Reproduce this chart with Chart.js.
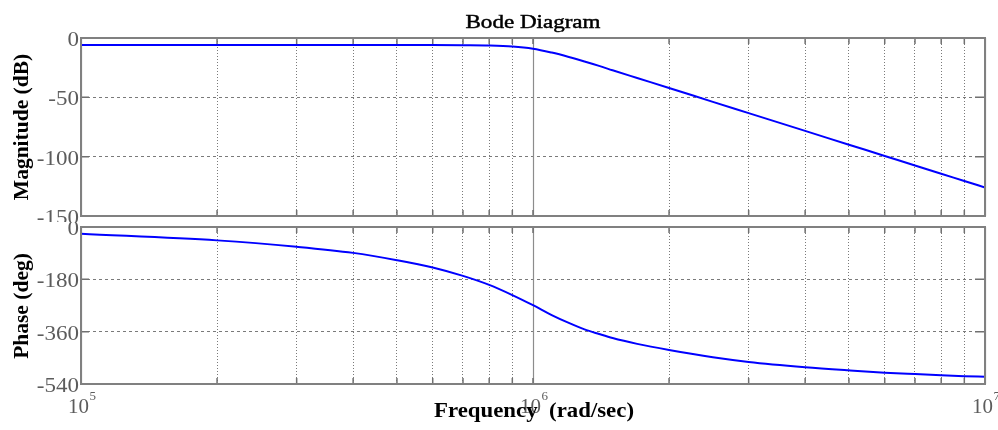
<!DOCTYPE html>
<html>
<head>
<meta charset="utf-8">
<script src="https://cdn.jsdelivr.net/npm/chart.js@4.4.1/dist/chart.umd.min.js"></script>
<style>
body{margin:0;background:#fff;width:998px;height:430px;overflow:hidden;position:relative}
canvas{position:absolute;left:0}
#mag{top:0}
#pha{top:222px}
</style>
</head>
<body>
<canvas id="mag" width="998" height="222"></canvas>
<canvas id="pha" width="998" height="208"></canvas>
<script>
// values (rad/sec, dB, deg)
const freq = [1e5, 2e5, 3e5, 4e5, 5e5, 6e5, 7e5, 8e5, 9e5, 1e6, 1.1e6, 1.2e6, 1.3e6, 1.4e6, 1.5e6, 1.7e6, 2e6, 2.5e6, 3e6, 4e6, 5e6, 6e6, 7e6, 8e6, 9e6, 1e7];
const magnitude = [-6.0, -6.0, -6.0, -6.0, -6.0, -6.0, -6.1, -6.3, -7.1, -9.0, -12.3, -16.0, -19.8, -23.5, -27.2, -33.7, -42.1, -53.8, -63.3, -78.3, -89.9, -99.4, -107.4, -114.4, -120.5, -126.0];
const phase = [-23, -46, -68, -89, -114, -139, -168, -199, -234, -269, -303, -330, -352, -368, -382, -402, -423, -448, -464, -482, -493, -501, -506, -510, -513, -515];

const gridFreqs = [1e5, 2e5, 3e5, 4e5, 5e5, 6e5, 7e5, 8e5, 9e5, 1e6, 2e6, 3e6, 4e6, 5e6, 6e6, 7e6, 8e6, 9e6, 1e7];
const decades = [1e5, 1e6, 1e7];
const decadeExp = ["5", "6", "7"];
const magTicks = [0, -50, -100, -150];
const phaseTicks = [0, -180, -360, -540];

const SERIF = '"Liberation Serif", "DejaVu Serif", serif';
const tickGray = "#5c5c5c";
const frameGray = "#808080";
const gridGray = "#7a7a7a";

function toPoints(ys) {
    return freq.map((f, i) => ({x: f, y: ys[i]}));
}

// text squeezed/stretched sideways to a given width
function drawText(ctx, text, x, y, font, width, align, stroke) {
    ctx.font = font;
    const w = ctx.measureText(text).width;
    const k = width ? width / w : 1;
    let x0 = x;
    if (align === "center") x0 = x - w * k / 2;
    if (align === "right") x0 = x - w * k;
    ctx.save();
    ctx.textAlign = "left";
    ctx.translate(x0, y);
    ctx.scale(k, 1);
    ctx.fillText(text, 0, 0);
    if (stroke) {
        ctx.strokeStyle = ctx.fillStyle;
        ctx.lineWidth = stroke;
        ctx.strokeText(text, 0, 0);
    }
    ctx.restore();
}

// frame, inner tick marks, solid decade line
const framePlugin = {
    id: "frame",
    beforeDatasetsDraw(chart) {
        const ctx = chart.ctx;
        const a = chart.chartArea;
        const x = chart.scales.x;
        ctx.save();
        ctx.strokeStyle = "#8c8c8c";
        ctx.lineWidth = 1.2;
        decades.forEach((d) => {
            const px = Math.round(x.getPixelForValue(d)) + 0.5;
            ctx.beginPath();
            ctx.moveTo(px, a.top);
            ctx.lineTo(px, a.bottom);
            ctx.stroke();
        });
        ctx.restore();
    },
    afterDraw(chart) {
        const ctx = chart.ctx;
        const a = chart.chartArea;
        const x = chart.scales.x;
        const y = chart.scales.y;
        ctx.save();
        ctx.strokeStyle = "#707070";
        ctx.lineWidth = 1.5;
        x.ticks.forEach((t) => {
            const px = x.getPixelForValue(t.value);
            ctx.beginPath();
            ctx.moveTo(px, a.bottom);
            ctx.lineTo(px, a.bottom - 6);
            ctx.moveTo(px, a.top);
            ctx.lineTo(px, a.top + 6);
            ctx.stroke();
        });
        y.ticks.forEach((t) => {
            const py = y.getPixelForValue(t.value);
            ctx.beginPath();
            ctx.moveTo(a.left, py);
            ctx.lineTo(a.left + 8, py);
            ctx.moveTo(a.right, py);
            ctx.lineTo(a.right - 10, py);
            ctx.stroke();
        });
        ctx.strokeStyle = frameGray;
        ctx.lineWidth = 2;
        ctx.strokeRect(a.left, a.top, a.right - a.left, a.bottom - a.top);
        ctx.restore();
    }
};

const textPlugin = {
    id: "texts",
    afterDraw(chart, args, opts) {
        const ctx = chart.ctx;
        const y = chart.scales.y;
        ctx.save();
        ctx.textBaseline = "alphabetic";

        // y tick labels
        ctx.fillStyle = tickGray;
        y.ticks.forEach((t) => {
            const py = y.getPixelForValue(t.value);
            const s = String(t.value);
            ctx.font = "20px " + SERIF;
            const w = ctx.measureText(s).width * 1.15;
            drawText(ctx, s, 79, py + 8, "20px " + SERIF, w, "right");
        });

        ctx.fillStyle = "#000";
        if (opts.title) {
            drawText(ctx, opts.title, 533, 27.5, "19px " + SERIF, 135, "center", 0.45);
        }

        ctx.save();
        ctx.translate(28, opts.ylabelY);
        ctx.rotate(-Math.PI / 2);
        ctx.textAlign = "center";
        ctx.font = "bold 21.5px " + SERIF;
        ctx.fillText(opts.ylabel, 0, 0);
        ctx.restore();

        if (opts.xlabels) {
            const x = chart.scales.x;
            ctx.fillStyle = tickGray;
            decades.forEach((d, i) => {
                const px = x.getPixelForValue(d);
                drawText(ctx, "10", px - 13, 191, "20px " + SERIF, 21, "left");
                drawText(ctx, decadeExp[i], px + 8.5, 178, "13px " + SERIF, 0, "left");
            });
            ctx.fillStyle = "#000";
            drawText(ctx, "Frequency  (rad/sec)", 534, 195, "bold 21px " + SERIF, 200, "center");
        }
        ctx.restore();
    }
};

function makeChart(id, ys, yMin, yTickList, bottomH, topPad, texts) {
    return new Chart(document.getElementById(id), {
        type: "line",
        data: {
            datasets: [{
                data: toPoints(ys),
                borderColor: "#0000ff",
                borderWidth: 2,
                pointRadius: 0,
                cubicInterpolationMode: "monotone",
                fill: false
            }]
        },
        options: {
            responsive: false,
            animation: false,
            devicePixelRatio: 1,
            layout: {padding: {top: topPad, right: 13, bottom: 0, left: 0}},
            plugins: {legend: {display: false}, tooltip: {enabled: false}, title: {display: false}, texts: texts},
            scales: {
                x: {
                    type: "logarithmic",
                    min: 1e5,
                    max: 1e7,
                    afterBuildTicks(scale) {
                        scale.ticks = gridFreqs.map((v) => ({value: v}));
                    },
                    afterFit(scale) {
                        scale.height = bottomH;
                        scale.paddingLeft = 0;
                        scale.paddingRight = 0;
                    },
                    ticks: {display: false},
                    grid: {color: gridGray, lineWidth: 1, drawTicks: false},
                    border: {display: false, dash: [1, 2]}
                },
                y: {
                    min: yMin,
                    max: 0,
                    afterBuildTicks(scale) {
                        scale.ticks = yTickList.map((v) => ({value: v}));
                    },
                    afterFit(scale) {
                        scale.width = 81;
                        scale.paddingTop = 0;
                        scale.paddingBottom = 0;
                    },
                    ticks: {display: false},
                    grid: {color: gridGray, lineWidth: 1, drawTicks: false},
                    border: {display: false, dash: [3, 3]}
                }
            }
        },
        plugins: [framePlugin, textPlugin]
    });
}

makeChart("mag", magnitude, -150, magTicks, 6, 38,
    {title: "Bode Diagram", ylabel: "Magnitude (dB)", ylabelY: 127});
makeChart("pha", phase, -540, phaseTicks, 46, 5,
    {ylabel: "Phase (deg)", ylabelY: 84, xlabels: true});
</script>
</body>
</html>
